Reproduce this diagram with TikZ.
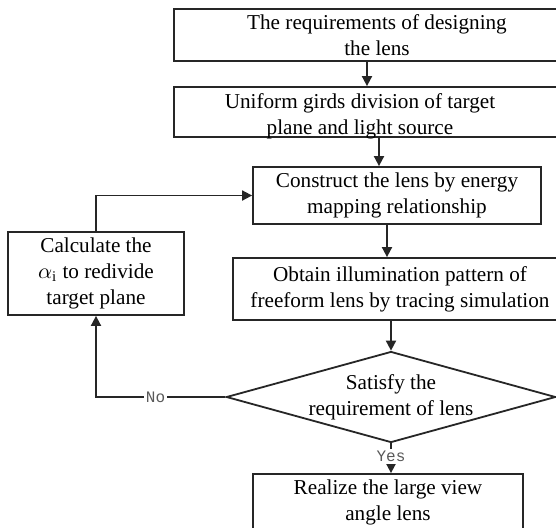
\documentclass[tikz,border=0pt]{standalone}
\usepackage{fontspec}
\setmainfont{Liberation Serif}
\newfontfamily\tagfont{Liberation Mono}
\usetikzlibrary{shapes.geometric,arrows.meta}

\begin{document}
\begin{tikzpicture}[x=0.5pt,y=-0.5pt]
			\tikzset{every node/.style={font=\fontsize{10.6}{13}\selectfont,align=center,text=black}}
			\tikzset{stepbox/.style={draw=black!85,line width=0.9pt,rectangle,inner sep=0pt}}
			\tikzset{test/.style={draw=black!85,line width=0.9pt,diamond,aspect=3.62,inner sep=0pt}}
			\tikzset{flow/.style={draw=black!85,line width=0.9pt,-{Triangle[width=5pt,length=5pt]}}}
			\tikzset{answer/.style={font=\tagfont\fontsize{8}{8}\selectfont,text=black!65,fill=white,inner sep=1pt}}
			\useasboundingbox (0,0) rectangle (556,527);
			\fill[white] (0,0) rectangle (556,527);
			% boxes
			\node[stepbox,minimum width=203pt,minimum height=26pt] (need) at (377,35) {The requirements of designing\\the lens};
			\node[stepbox,minimum width=203pt,minimum height=25pt,label={[xshift=-8.5pt,yshift=-2pt]center:{Uniform girds division of target\\plane and light source}}] (grid) at (377,112) {};
			\node[stepbox,minimum width=144pt,minimum height=28.5pt] (build) at (397,195.5) {Construct the lens by energy\\mapping relationship};
			\node[stepbox,minimum width=88pt,minimum height=41.5pt] (redo) at (96,273.5) {Calculate the\\$\alpha_{\mathrm{i}}$ to redivide\\target plane};
			\node[stepbox,minimum width=167pt,minimum height=31pt] (trace) at (400,289) {Obtain illumination pattern of\\freeform lens by tracing simulation};
			\node[test,minimum width=161pt,minimum height=44.5pt] (check) at (391,397) {Satisfy the\\requirement of lens};
			\node[stepbox,minimum width=135pt,minimum height=28pt] (done) at (388,502) {Realize the large view\\angle lens};
			% arrows
			\draw[flow] ([xshift=-5pt]need.south) -- ([xshift=-5pt]need.south |- grid.north);
			\draw[flow] ([xshift=-9pt]build.north |- grid.south) -- ([xshift=-9pt]build.north);
			\draw[flow] ([xshift=-5pt]build.south) -- ([xshift=-5pt]build.south |- trace.north);
			\draw[flow] (check.north |- trace.south) -- (check.north);
			\draw[flow] (check.south) -- (check.south |- done.north) node[answer,pos=0.45] {Yes};
			\draw[flow] (check.west) -| (redo.south) node[answer,pos=0.27] {No};
			\draw[flow] (redo.north) |- (build.west);
\end{tikzpicture}
\end{document}
